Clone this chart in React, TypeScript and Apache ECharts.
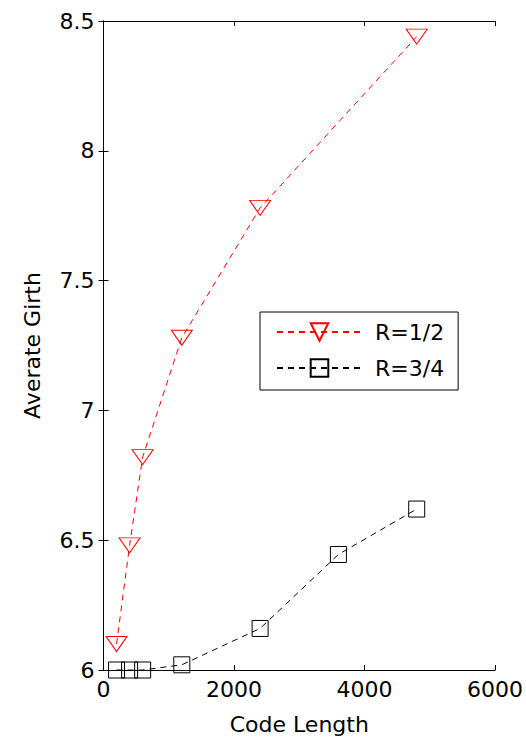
import React, { useEffect, useRef } from "react";
import * as echarts from "echarts";

const r12X = [200, 400, 600, 1200, 2400, 4800];
const r12Y = [6.1, 6.48, 6.82, 7.28, 7.78, 8.44];
const r34X = [200, 400, 600, 1200, 2400, 3600, 4800];
const r34Y = [6.0, 6.0, 6.0, 6.02, 6.16, 6.445, 6.62];
const seriesNames = ["R=1/2", "R=3/4"];
const xTitle = "Code Length";
const yTitle = "Averate Girth";

const FONT = "'DejaVu Sans', Arial, Helvetica, sans-serif";

export default function App() {
  const ref = useRef<HTMLDivElement>(null);
  useEffect(() => {
    if (!ref.current) return;
    const chart = echarts.init(ref.current, undefined, { renderer: "svg" });
    const axisLine = { show: true, lineStyle: { color: "#000", width: 1 } };
    const tick = { show: true, inside: true, length: 5, lineStyle: { color: "#000" } };
    const label = { color: "#000", fontSize: 22, fontFamily: FONT };
    chart.setOption({
      animation: false,
      backgroundColor: "#fff",
      grid: { left: 103.5, right: 30.5, top: 21, bottom: 70, containLabel: false },
      xAxis: [
        {
          type: "value", min: 0, max: 6000, interval: 2000, position: "bottom",
          axisLine, axisTick: tick, splitLine: { show: false },
          axisLabel: { ...label, margin: 8, formatter: (v: number) => String(v) },
          name: xTitle, nameLocation: "middle", nameGap: 43,
          nameTextStyle: { color: "#000", fontSize: 22, fontFamily: FONT },
        },
        {
          type: "value", min: 0, max: 6000, interval: 2000, position: "top",
          axisLine, axisTick: tick, splitLine: { show: false }, axisLabel: { show: false },
        },
      ],
      yAxis: [
        {
          type: "value", min: 6, max: 8.5, interval: 0.5, position: "left",
          axisLine, axisTick: tick, splitLine: { show: false },
          axisLabel: { ...label, margin: 9, formatter: (v: number) => String(v) },
          name: yTitle, nameLocation: "middle", nameGap: 60, nameRotate: 90,
          nameTextStyle: { color: "#000", fontSize: 22, fontFamily: FONT },
        },
        {
          type: "value", min: 6, max: 8.5, interval: 0.5, position: "right",
          axisLine, axisTick: tick, splitLine: { show: false }, axisLabel: { show: false },
        },
      ],
      legend: {
        left: 260, top: 312,
        orient: "vertical",
        data: seriesNames,
        itemWidth: 85, itemHeight: 22, itemGap: 14,
        padding: [9, 14, 11, 16],
        borderColor: "#000", borderWidth: 1,
        backgroundColor: "#fff",
        textStyle: { color: "#000", fontSize: 22, fontFamily: FONT, padding: [0, 0, 0, 8] },
      },
      series: [
        {
          name: seriesNames[0], type: "line",
          data: r12X.map((x, i) => [x, r12Y[i]]),
          symbol: "triangle", symbolRotate: 180, symbolSize: [21, 15],
          clip: false,
          lineStyle: { color: "#ff0000", width: 1, type: [6, 5] },
          itemStyle: { color: "rgba(255,255,255,0)", borderColor: "#ff0000", borderWidth: 1 },
          z: 3,
        },
        {
          name: seriesNames[1], type: "line",
          data: r34X.map((x, i) => [x, r34Y[i]]),
          symbol: "rect", symbolSize: 16,
          clip: false,
          lineStyle: { color: "#000", width: 1, type: [6, 5] },
          itemStyle: { color: "rgba(255,255,255,0)", borderColor: "#000", borderWidth: 1 },
          z: 3,
        },
      ],
    });
    return () => chart.dispose();
  }, []);
  return <div ref={ref} style={{ width: 526, height: 740, position: "absolute", left: 0, top: 0 }} />;
}
